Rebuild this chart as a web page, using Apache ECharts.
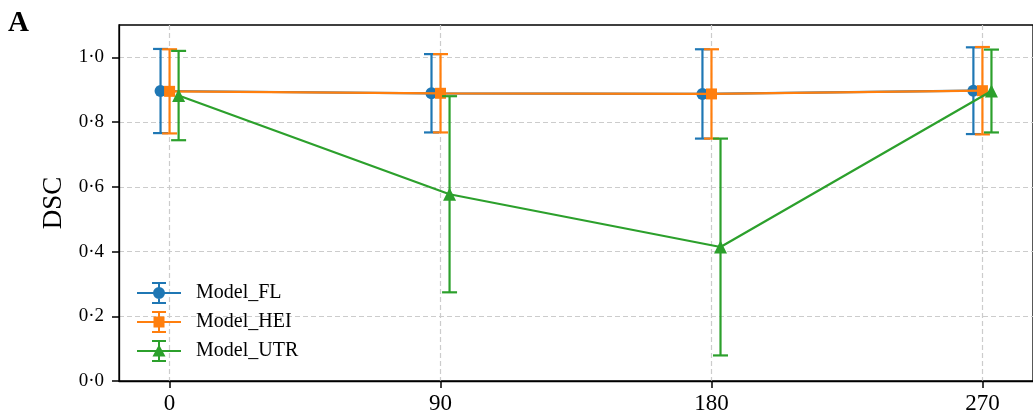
<!DOCTYPE html>
<html>
<head>
<meta charset="utf-8">
<script src="https://cdn.jsdelivr.net/npm/echarts@6/dist/echarts.min.js"></script>
<style>
html,body{margin:0;padding:0;background:#fff;}
#chart{width:1033px;height:419px;}
</style>
</head>
<body>
<div id="chart"></div>
<script>
// ---- data ----
const angles = [0, 90, 180, 270];
const xTicks = [0, 90, 180, 270];
const yTicks = [0, 0.2, 0.4, 0.6, 0.8, 1.0];
const modelNames = ['Model_FL', 'Model_HEI', 'Model_UTR'];
const flMean  = [0.896, 0.889, 0.887, 0.897];
const flStd   = [0.130, 0.121, 0.138, 0.134];
const heiMean = [0.895, 0.889, 0.887, 0.897];
const heiStd  = [0.130, 0.121, 0.138, 0.135];
const utrMean = [0.882, 0.577, 0.414, 0.896];
const utrStd  = [0.138, 0.303, 0.335, 0.128];

// ---- styling ----
const colors = ['#1f77b4', '#ff7f0e', '#2ca02c'];
const offsets = [-3, 0, 3];
const symbols = ['circle', 'rect', 'triangle'];
const symbolSizes = [12, 11, 13];
const FONT = '"Liberation Serif", "DejaVu Serif", serif';

const means = [flMean, heiMean, utrMean];
const stds = [flStd, heiStd, utrStd];

// legend icons: horizontal line + errorbar + marker
const base = 'M0 11 L44 11 L44 13 L0 13 Z M21 1 L23 1 L23 23 L21 23 Z M15 1 L29 1 L29 3 L15 3 Z M15 21 L29 21 L29 23 L15 23 Z ';
const icons = [
  'path://' + base + 'M28 12 A6 6 0 1 1 16 12 A6 6 0 1 1 28 12 Z',
  'path://' + base + 'M16.5 6.5 L27.5 6.5 L27.5 17.5 L16.5 17.5 Z',
  'path://' + base + 'M22 5.5 L28.5 17.5 L15.5 17.5 Z'
];

const series = [];
modelNames.forEach((name, i) => {
  const errData = angles.map((a, k) => [a + offsets[i], means[i][k] - stds[i][k], means[i][k] + stds[i][k]]);
  series.push({
    type: 'custom',
    name: name,
    data: errData,
    encode: { x: 0, y: [1, 2] },
    z: 2 + i * 2,
    silent: true,
    renderItem: function (params, api) {
      const x = api.value(0), lo = api.value(1), hi = api.value(2);
      const pLo = api.coord([x, lo]);
      const pHi = api.coord([x, hi]);
      const hw = 7.5;
      const st = { stroke: colors[i], lineWidth: 2.2 };
      return {
        type: 'group',
        children: [
          { type: 'line', shape: { x1: pLo[0], y1: pLo[1], x2: pHi[0], y2: pHi[1] }, style: st },
          { type: 'line', shape: { x1: pLo[0] - hw, y1: pLo[1], x2: pLo[0] + hw, y2: pLo[1] }, style: st },
          { type: 'line', shape: { x1: pHi[0] - hw, y1: pHi[1], x2: pHi[0] + hw, y2: pHi[1] }, style: st }
        ]
      };
    }
  });
  series.push({
    type: 'line',
    name: name,
    data: angles.map((a, k) => [a + offsets[i], means[i][k]]),
    symbol: symbols[i],
    symbolSize: symbolSizes[i],
    showSymbol: true,
    z: 3 + i * 2,
    lineStyle: { color: colors[i], width: 2.2 },
    itemStyle: { color: colors[i] },
    emphasis: { disabled: true }
  });
});

const chart = echarts.init(document.getElementById('chart'), null, { renderer: 'canvas' });
chart.setOption({
  animation: false,
  backgroundColor: '#fff',
  color: colors,
  grid: {
    left: 119, top: 25, right: -8, bottom: 38,
    show: true, borderColor: '#000', borderWidth: 1.3, backgroundColor: 'transparent'
  },
  xAxis: {
    type: 'value',
    min: -16.8, max: 286.8,
    axisLine: { show: true, onZero: false, lineStyle: { color: '#000', width: 1.3 } },
    axisTick: { show: true, length: 7, lineStyle: { color: '#000', width: 1.5 }, customValues: xTicks },
    axisLabel: { customValues: xTicks, color: '#000', fontFamily: FONT, fontSize: 23, margin: 11 },
    splitLine: { show: true, lineStyle: { color: '#cccccc', type: [5, 3], width: 1.2 } }
  },
  yAxis: {
    type: 'value',
    min: 0, max: 1.1,
    name: 'DSC',
    nameLocation: 'middle',
    nameGap: 51,
    nameTextStyle: { color: '#000', fontFamily: FONT, fontSize: 27 },
    axisLine: { show: true, onZero: false, lineStyle: { color: '#000', width: 1.3 } },
    axisTick: { show: true, length: 7, lineStyle: { color: '#000', width: 1.5 }, customValues: yTicks },
    axisLabel: {
      customValues: yTicks, color: '#000', fontFamily: FONT, fontSize: 19, margin: 15,
      formatter: v => v.toFixed(1).replace('.', '·')
    },
    splitLine: { show: true, lineStyle: { color: '#cccccc', type: [5, 3], width: 1.2 } }
  },
  legend: {
    orient: 'vertical',
    left: 137,
    top: 282,
    padding: 0,
    itemGap: 7,
    itemWidth: 44,
    itemHeight: 24,
    selectedMode: false,
    textStyle: { color: '#000', fontFamily: FONT, fontSize: 20, padding: [0, 0, 0, 10] },
    data: modelNames.map((n, i) => ({ name: n, icon: icons[i], itemStyle: { color: colors[i] } }))
  },
  graphic: [{
    type: 'text', left: 8, top: 9,
    style: { text: 'A', fill: '#000', font: 'bold 29px ' + FONT }
  }],
  series: series
});
</script>
</body>
</html>
